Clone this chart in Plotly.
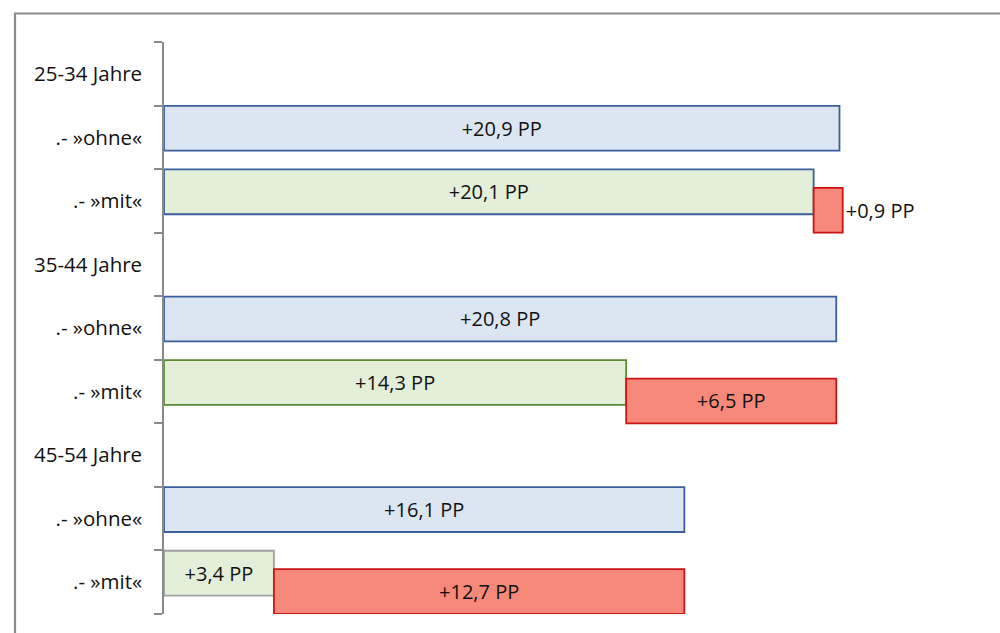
import plotly.graph_objects as go

# Row labels, top to bottom
row_labels = ["25-34 Jahre", ".- »ohne«", ".- »mit«",
              "35-44 Jahre", ".- »ohne«", ".- »mit«",
              "45-54 Jahre", ".- »ohne«", ".- »mit«"]

# Increase in percentage points (PP)
ohne_rows = [1, 4, 7]
ohne_values = [20.9, 20.8, 16.1]

mit_rows = [2, 5, 8]
mit_values = [20.1, 14.3, 3.4]
mit_extra = [0.9, 6.5, 12.7]

mit_border_colors = ["#3b5e9c", "#5b8a34", "#a0a0a0"]


def pp(v):
    return ("+%.1f PP" % v).replace(".", ",")


FONT = "Open Sans, Segoe UI, sans-serif"
W1 = 0.705   # bar thickness in row units
OFF1 = -0.495
OFF2 = -0.205

fig = go.Figure()

# Base series: "ohne" (blue) and "mit" (green) bars
fig.add_trace(go.Bar(
    orientation="h",
    y=ohne_rows + mit_rows,
    x=ohne_values + mit_values,
    width=W1, offset=OFF1,
    marker=dict(
        color=["#dce6f2"] * 3 + ["#e3efd9"] * 3,
        line=dict(color=["#3b5e9c"] * 3 + mit_border_colors, width=1.8),
    ),
    text=[pp(v) for v in ohne_values + mit_values],
    textposition="inside", insidetextanchor="middle",
    textfont=dict(family=FONT, size=20, color="#111111"),
    textangle=0,
    cliponaxis=False,
    showlegend=False,
))

# Additional increase for "mit" (red), starting where the green bar ends
fig.add_trace(go.Bar(
    orientation="h",
    y=mit_rows,
    x=mit_extra,
    base=mit_values,
    width=W1, offset=OFF2,
    marker=dict(color="#f7897a", line=dict(color="#cc1414", width=1.8)),
    text=[pp(v) for v in mit_extra],
    textposition=["outside" if v < 2 else "inside" for v in mit_extra],
    insidetextanchor="middle",
    textfont=dict(family=FONT, size=20, color="#111111"),
    textangle=0,
    cliponaxis=False,
    showlegend=False,
))

boundaries = [i - 0.5 for i in range(len(row_labels) + 1)]

fig.update_layout(
    width=1000, height=633,
    margin=dict(l=164, r=28, t=42, b=19),
    paper_bgcolor="white", plot_bgcolor="white",
    barmode="overlay",
    uniformtext=dict(mode=False),
    xaxis=dict(range=[0, 25], visible=False, fixedrange=True),
    yaxis=dict(
        range=[len(row_labels) - 0.5, -0.5],
        tickmode="array",
        tickvals=list(range(len(row_labels))),
        ticktext=row_labels,
        ticks="", showgrid=False, zeroline=False,
        showline=True, linecolor="#8a8a8a", linewidth=1.5,
        ticklabelstandoff=16,
        tickfont=dict(family=FONT, size=20.5, color="#111111"),
        minor=dict(tickmode="array", tickvals=boundaries, ticks="outside",
                   ticklen=8, tickwidth=1.5, tickcolor="#8a8a8a", showgrid=False),
    ),
    shapes=[dict(
        type="rect", xref="paper", yref="paper",
        x0=(15 - 164) / 808, x1=(1010 - 164) / 808,
        y0=(614 - 645) / 572, y1=(614 - 13.5) / 572,
        line=dict(color="#8c8c8c", width=2.2),
        fillcolor="rgba(0,0,0,0)", layer="below",
    )],
)

fig.write_html("out.html")
